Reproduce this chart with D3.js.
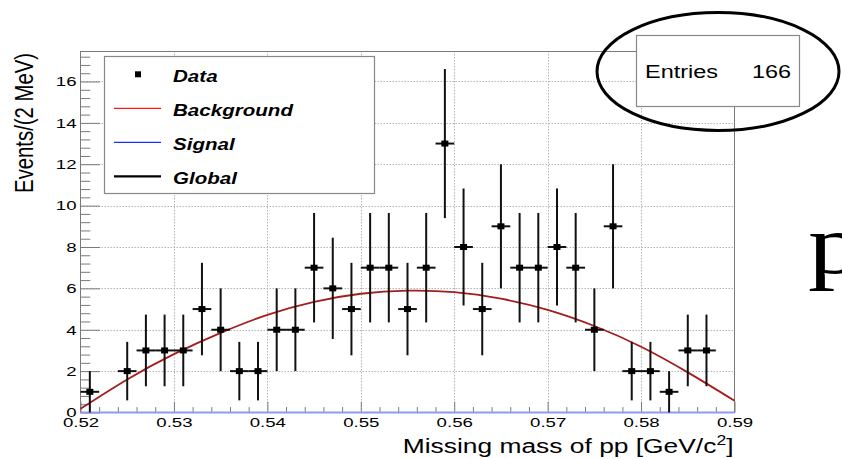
<!DOCTYPE html>
<html><head><meta charset="utf-8">
<script src="https://cdn.jsdelivr.net/npm/d3@7"></script>
<style>body{margin:0;background:#fff}svg{display:block}</style>
</head><body>
<script>
// ---- data ----
const binCenters = [0.521,0.523,0.525,0.527,0.529,0.531,0.533,0.535,0.537,0.539,0.541,0.543,0.545,0.547,0.549,0.551,0.553,0.555,0.557,0.559,0.561,0.563,0.565,0.567,0.569,0.571,0.573,0.575,0.577,0.579,0.581,0.583,0.585,0.587,0.589];
const counts     = [1,0,2,3,3,3,5,4,2,2,4,4,7,6,5,7,7,5,7,13,8,5,9,7,7,8,7,4,9,2,2,1,3,3,0];
const binWidth = 0.002;
const bgMass  = [0.520,0.525,0.530,0.535,0.540,0.545,0.550,0.555,0.560,0.565,0.570,0.575,0.580,0.585,0.590];
const bgValue = [0.18,1.60,2.82,3.85,4.72,5.35,5.74,5.89,5.82,5.50,4.96,4.18,3.18,1.94,0.57];
const signalMass  = [0.520,0.590];
const signalValue = [0,0];
const xTicks = [0.52,0.53,0.54,0.55,0.56,0.57,0.58,0.59];
const xTickLabels = ["0.52","0.53","0.54","0.55","0.56","0.57","0.58","0.59"];
const yTicks = [0,2,4,6,8,10,12,14,16];
const yTickLabels = ["0","2","4","6","8","10","12","14","16"];
const legendLabels = ["Data","Background","Signal","Global"];
const entries = 166;

const W = 842, H = 459;
const FONT = "'Liberation Sans', Arial, Helvetica, sans-serif";
const svg = d3.select("body").append("svg").attr("width", W).attr("height", H);

const x = d3.scaleLinear().domain([0.52, 0.59]).range([80.5, 734.5]);
const y = d3.scaleLinear().domain([0, 17.45]).range([412.5, 51.5]);
const sxTick = 1.38;

// grid
const grid = svg.append("g").attr("stroke", "#b4b4b4").attr("stroke-width", 1).attr("stroke-dasharray", "1.5,1.5");
grid.selectAll("line.gx").data(xTicks.slice(1, -1)).join("line")
  .attr("x1", d => Math.round(x(d)) + 0.5).attr("x2", d => Math.round(x(d)) + 0.5)
  .attr("y1", y.range()[0]).attr("y2", y.range()[1]);
grid.selectAll("line.gy").data(yTicks.slice(1)).join("line")
  .attr("y1", d => Math.round(y(d)) + 0.5).attr("y2", d => Math.round(y(d)) + 0.5)
  .attr("x1", x.range()[0]).attr("x2", x.range()[1]);

// minor tick values
const xMinor = d3.range(0, 36).map(i => +(0.52 + i * 0.002).toFixed(3)).filter(v => !xTicks.some(t => Math.abs(t - v) < 1e-9));
const yMinor = d3.range(0, 44).map(i => +(i * 0.4).toFixed(1)).filter(v => v <= 17.45 && !yTicks.some(t => Math.abs(t - v) < 1e-9));

// axes
const xAx = svg.append("g").attr("transform", `translate(0,${y.range()[0]})`)
  .call(d3.axisBottom(x).tickValues(xTicks).tickSize(-10.8).tickPadding(5.4).tickFormat((d, i) => xTickLabels[i]));
const xAxMin = svg.append("g").attr("transform", `translate(0,${y.range()[0]})`)
  .call(d3.axisBottom(x).tickValues(xMinor).tickSize(-5.4).tickFormat(""));
const yAx = svg.append("g").attr("transform", `translate(${x.range()[0]},0)`)
  .call(d3.axisLeft(y).tickValues(yTicks).tickSize(-19.6).tickPadding(4).tickFormat((d, i) => yTickLabels[i]));
const yAxMin = svg.append("g").attr("transform", `translate(${x.range()[0]},0)`)
  .call(d3.axisLeft(y).tickValues(yMinor).tickSize(-9.8).tickFormat(""));
[xAx, xAxMin, yAx, yAxMin].forEach(g => {
  g.select(".domain").remove();
  g.selectAll(".tick line").attr("stroke", "#7a7a7a").attr("stroke-width", 1);
  g.selectAll("text").attr("font-family", FONT).attr("font-size", 13.5).attr("fill", "#000");
});
xAx.selectAll(".tick text").attr("transform", `scale(${sxTick},1)`);
yAx.selectAll(".tick text").attr("x", -4 / sxTick).attr("transform", `scale(${sxTick},1)`);

// frame
svg.append("rect").attr("x", x.range()[0]).attr("y", y.range()[1])
  .attr("width", x.range()[1] - x.range()[0]).attr("height", y.range()[0] - y.range()[1])
  .attr("fill", "none").attr("stroke", "#7a7a7a").attr("stroke-width", 1);

// signal (flat at zero)
svg.append("path").datum(signalMass.map((m, i) => [m, signalValue[i]]))
  .attr("d", d3.line().x(d => x(d[0])).y(d => y(d[1])))
  .attr("stroke", "#8f9af2").attr("stroke-width", 2).attr("fill", "none");

// background / global curve
svg.append("path").datum(bgMass.map((m, i) => [m, bgValue[i]]))
  .attr("d", d3.line().x(d => x(d[0])).y(d => y(d[1])).curve(d3.curveNatural))
  .attr("stroke", "#a51c1c").attr("stroke-width", 1.8).attr("fill", "none");

// data points
const pts = binCenters.map((c, i) => ({ c, n: counts[i], e: Math.sqrt(counts[i]) })).filter(d => d.n > 0);
const pg = svg.append("g").attr("stroke", "#111").attr("stroke-width", 2);
pg.selectAll("line.v").data(pts).join("line")
  .attr("x1", d => x(d.c)).attr("x2", d => x(d.c))
  .attr("y1", d => y(d.n - d.e)).attr("y2", d => y(d.n + d.e));
pg.selectAll("line.h").data(pts).join("line")
  .attr("x1", d => x(d.c - binWidth / 2)).attr("x2", d => x(d.c + binWidth / 2))
  .attr("y1", d => y(d.n)).attr("y2", d => y(d.n));
svg.append("g").selectAll("rect").data(pts).join("rect")
  .attr("x", d => x(d.c) - 3.5).attr("y", d => y(d.n) - 3).attr("width", 7).attr("height", 6).attr("fill", "#000");

// legend
const lg = svg.append("g");
lg.append("rect").attr("x", 104.5).attr("y", 56.5).attr("width", 270).attr("height", 137)
  .attr("fill", "#fff").attr("stroke", "#888").attr("stroke-width", 1.2);
const rowsY = [82, 116, 150, 184];
const lgTexts = lg.selectAll("text").data(legendLabels).join("text")
  .attr("font-family", FONT).attr("font-size", 17).attr("font-weight", "bold").attr("font-style", "italic")
  .text(d => d);
const bgW = lgTexts.filter(d => d === "Background").node().getComputedTextLength();
const sxLeg = 120 / bgW;
lgTexts.attr("transform", (d, i) => `translate(173,${rowsY[i]}) scale(${sxLeg},1)`);
lg.append("rect").attr("x", 135).attr("y", rowsY[0] - 7.7 - 3).attr("width", 6).attr("height", 6).attr("fill", "#000");
const lgLines = [["#ff1a1a", 1.2], ["#1a2cff", 1.2], ["#000", 2.2]];
lgLines.forEach((s, i) => {
  lg.append("line").attr("x1", 114).attr("x2", 161).attr("y1", rowsY[i + 1] - 7.7).attr("y2", rowsY[i + 1] - 7.7)
    .attr("stroke", s[0]).attr("stroke-width", s[1]);
});

// stats box
const sb = svg.append("g");
sb.append("rect").attr("x", 636.5).attr("y", 35.5).attr("width", 163).attr("height", 71)
  .attr("fill", "#fff").attr("stroke", "#888").attr("stroke-width", 1.2);
const eT = sb.append("text").attr("font-family", FONT).attr("font-size", 18).text("Entries");
const sxE = 73 / eT.node().getComputedTextLength();
eT.attr("transform", `translate(645,78) scale(${sxE},1)`);
sb.append("text").attr("font-family", FONT).attr("font-size", 18).attr("text-anchor", "end")
  .attr("transform", `translate(791,78) scale(${sxE},1)`).text(String(entries));

// ellipse annotation
svg.append("ellipse").attr("cx", 718).attr("cy", 71.5).attr("rx", 121).attr("ry", 59)
  .attr("fill", "none").attr("stroke", "#000").attr("stroke-width", 3);

// axis titles
const xt = svg.append("text").attr("font-family", FONT).attr("font-size", 21).attr("text-anchor", "end");
xt.append("tspan").text("Missing mass of pp [GeV/c");
xt.append("tspan").attr("font-size", 14).attr("dy", -8).text("2");
xt.append("tspan").attr("dy", 8).text("]");
const xtw = xt.node().getBBox().width;
xt.attr("transform", `translate(733.5,452.5) scale(${331 / xtw},1)`);

const yt = svg.append("text").attr("font-family", FONT).attr("font-size", 19).attr("text-anchor", "end")
  .text("Events/(2 MeV)");
const ytl = yt.node().getComputedTextLength();
yt.attr("transform", `translate(33,53) scale(1.38,${140 / ytl}) rotate(-90)`);

// partial glyph from the neighbouring slide text
svg.append("text").attr("font-family", "'Liberation Serif', 'Times New Roman', serif").attr("font-size", 84)
  .attr("transform", "translate(808,273) scale(1.3,1)").text("p");
</script>
</body></html>
